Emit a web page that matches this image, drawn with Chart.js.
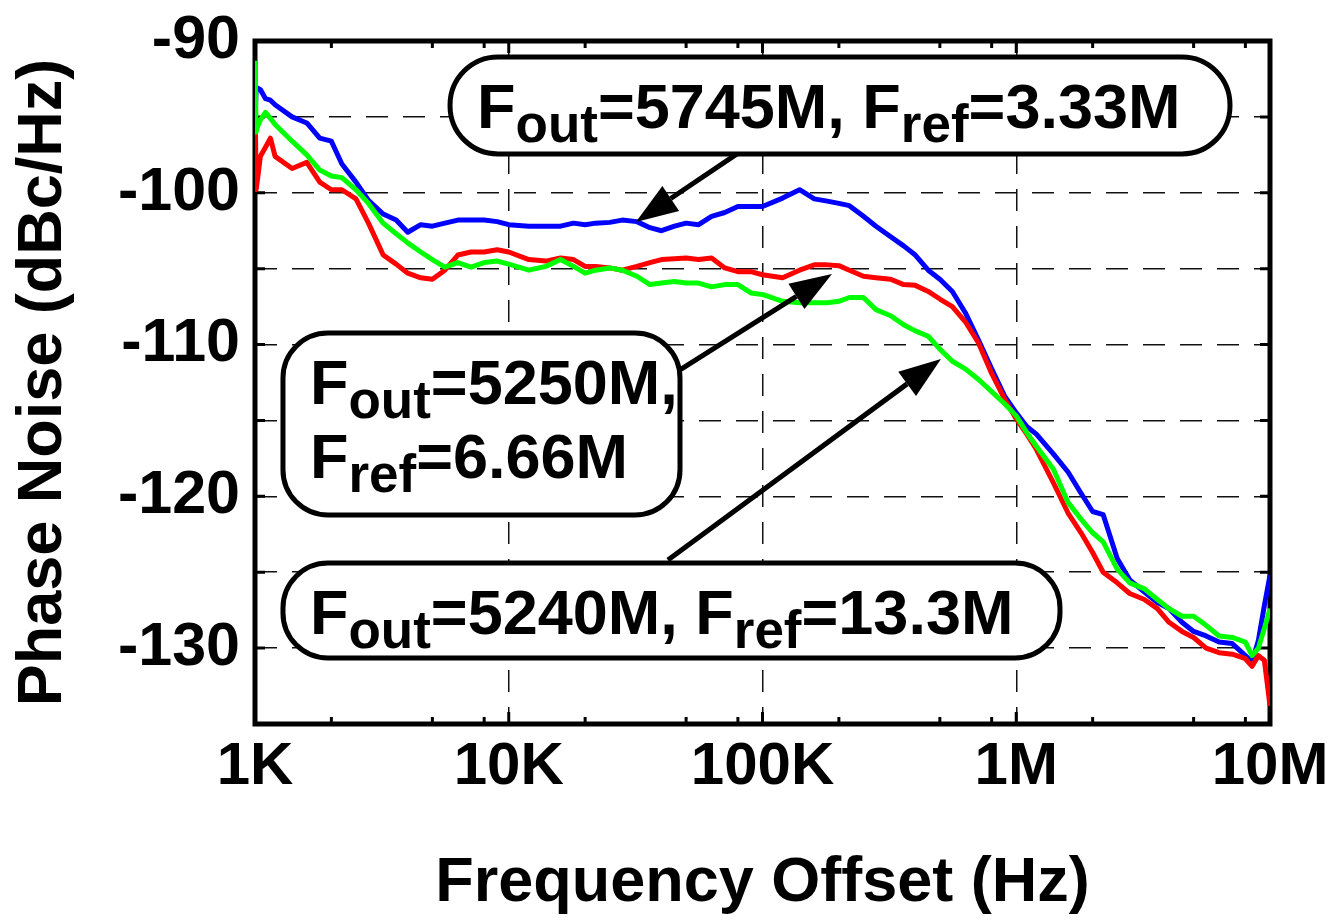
<!DOCTYPE html>
<html>
<head>
<meta charset="utf-8">
<script src="https://cdn.jsdelivr.net/npm/chart.js@4.4.1/dist/chart.umd.min.js"></script>
<style>
    html, body { margin: 0; padding: 0; background: #fff; }
    #wrap { width: 1334px; height: 921px; }
</style>
</head>
<body>
<div id="wrap"><canvas id="chart" width="1334" height="921"></canvas></div>
<script>
// Offset frequency (Hz), shared by the three measured curves
const freqHz = [
    1000, 1010, 1025, 1050, 1100, 1150, 1200, 1400, 1600, 1800, 2000, 2200, 2500, 2800, 3200, 3600, 4000, 4500, 5000, 5600, 6300, 7100, 8000, 9000,
    10000, 12000, 14000, 16000, 18000, 20000, 22000, 25000, 28000, 32000, 36000, 40000, 45000, 50000, 56000, 63000, 71000, 80000, 90000,
    100000, 120000, 140000, 160000, 180000, 200000, 220000, 250000, 280000, 320000, 360000, 400000, 450000, 500000, 560000, 630000, 710000, 800000, 900000,
    1000000, 1100000, 1200000, 1400000, 1600000, 1800000, 2000000, 2200000, 2500000, 2800000, 3200000, 3600000, 4000000, 4500000, 5000000, 5600000, 6300000, 7100000, 8000000, 8500000, 9000000, 9500000, 10000000
];

// Fout=5745M, Fref=3.33M (blue)
const pn5745 = [
    -95.5, -93.2, -93.1, -93.2, -93.8, -93.9, -94.2, -95.0, -95.4, -96.4, -96.6, -98.1, -99.3, -100.5, -101.4, -101.8, -102.6, -102.1, -102.2, -102.0, -101.8, -101.8, -101.8, -101.9,
    -102.1, -102.2, -102.2, -102.2, -102.0, -102.1, -102.0, -101.95, -101.8, -101.9, -102.3, -102.5, -102.2, -102.0, -102.1, -101.55, -101.3, -100.9, -100.9,
    -100.9, -100.35, -99.8, -100.4, -100.55, -100.7, -100.85, -101.55, -102.2, -102.9, -103.5, -104.1, -105.1, -105.7, -106.5, -107.9, -109.7, -111.6, -113.4,
    -114.5, -115.4, -115.9, -117.2, -118.4, -119.8, -121.0, -121.2, -124.1, -125.5, -126.3, -127.0, -127.4, -128.3, -128.9, -129.2, -129.6, -129.7, -130.5, -130.9, -129.5, -127.2, -125.2
];

// Fout=5250M, Fref=6.66M (red)
const pn5250 = [
    -93.0, -99.8, -99.0, -97.6, -97.0, -96.4, -97.6, -98.4, -98.0, -99.3, -99.8, -99.8, -100.4, -102.0, -104.1, -104.7, -105.3, -105.6, -105.7, -105.1, -104.1, -103.9, -103.9, -103.75,
    -103.9, -104.4, -104.5, -104.3, -104.4, -104.85, -104.85, -104.95, -105.1, -104.85, -104.6, -104.4, -104.35, -104.3, -104.4, -104.3, -104.95, -105.2, -105.2,
    -105.4, -105.6, -105.1, -104.75, -104.75, -104.8, -105.1, -105.5, -105.6, -105.7, -106.05, -106.1, -106.5, -107.0, -107.5, -108.5, -109.9, -111.9, -113.6,
    -114.9, -115.9, -116.9, -119.1, -121.1, -122.4, -123.7, -125.0, -125.7, -126.4, -126.8, -127.4, -128.3, -128.9, -129.3, -130.0, -130.3, -130.4, -130.7, -131.2, -130.5, -130.8, -133.8
];

// Fout=5240M, Fref=13.3M (green)
const pn5240 = [
    -91.3, -96.0, -95.6, -95.2, -94.7, -95.1, -95.5, -96.6, -97.5, -98.5, -98.9, -99.0, -99.8, -100.7, -102.0, -102.7, -103.3, -103.9, -104.4, -104.9, -104.6, -104.9, -104.6, -104.5,
    -104.7, -105.1, -104.85, -104.4, -104.85, -105.3, -105.1, -104.95, -105.1, -105.5, -106.05, -105.95, -105.85, -105.95, -105.95, -106.2, -106.05, -106.05, -106.6,
    -106.7, -107.15, -107.25, -107.25, -107.25, -107.15, -106.9, -106.9, -107.7, -108.1, -108.7, -109.1, -109.45, -110.3, -111.1, -111.6, -112.3, -113.1, -113.9,
    -114.7, -115.8, -116.7, -118.2, -120.4, -121.5, -122.4, -123.0, -124.8, -125.7, -126.1, -126.8, -127.4, -127.9, -127.9, -128.5, -129.2, -129.3, -129.6, -130.5, -130.0, -128.7, -127.4
];

const xTickValues = [1e3, 1e4, 1e5, 1e6, 1e7];
const xTickLabels = ['1K', '10K', '100K', '1M', '10M'];
const yLabelValues = [-90, -100, -110, -120, -130];
const Y_MIN = -135;
const Y_MAX = -90;

// Callout boxes (corners in data units) and their arrows (tail -> tip)
const noteTexts = [
    'F_{out}=5745M, F_{ref}=3.33M',
    'F_{out}=5250M,\nF_{ref}=6.66M',
    'F_{out}=5240M, F_{ref}=13.3M'
];
const noteBoxes = [
    [5870, 6.955e6, -91.05, -97.44],
    [1289, 47300, -109.24, -121.23],
    [1289, 1.487e6, -124.39, -130.65]
];
const noteArrows = [
    [81500, -97.31, 31700, -101.92],
    [44000, -112.0, 187800, -105.35],
    [42400, -124.19, 505000, -110.95]
];

const FONT = "'Liberation Sans', Arial, Helvetica, sans-serif";
Chart.defaults.font.family = FONT;
Chart.defaults.color = '#000';

function toPoints(values) {
    return values.map((v, i) => ({ x: freqHz[i], y: v }));
}

// Draws text with _{...} subscripts starting at (x, y) baseline
function drawSubText(ctx, text, x, y) {
    const parts = text.split(/(_\{[^}]*\})/).filter(p => p.length);
    let cx = x;
    parts.forEach(function (p) {
        if (p.startsWith('_{')) {
            ctx.font = `bold 53px ${FONT}`;
            const t = p.slice(2, -1);
            ctx.fillText(t, cx, y + 14);
            cx += ctx.measureText(t).width;
        } else {
            ctx.font = `bold 63px ${FONT}`;
            ctx.fillText(p, cx, y);
            cx += ctx.measureText(p).width;
        }
    });
}

function drawArrow(ctx, x0, y0, x1, y1) {
    const ang = Math.atan2(y1 - y0, x1 - x0);
    const headLen = 42;
    const headHalf = 15;
    const bx = x1 - headLen * Math.cos(ang);
    const by = y1 - headLen * Math.sin(ang);
    ctx.beginPath();
    ctx.moveTo(x0, y0);
    ctx.lineTo(bx, by);
    ctx.stroke();
    ctx.beginPath();
    ctx.moveTo(x1, y1);
    ctx.lineTo(bx + headHalf * Math.sin(ang), by - headHalf * Math.cos(ang));
    ctx.lineTo(bx - headHalf * Math.sin(ang), by + headHalf * Math.cos(ang));
    ctx.closePath();
    ctx.fill();
}

// no extra label overflow padding, the chart area is fixed by layout padding
function noScalePadding(s) {
    s.paddingLeft = 0;
    s.paddingRight = 0;
    s.paddingTop = 0;
    s.paddingBottom = 0;
}

// Frame and inward ticks go under the curves, callouts on top
const frameAndNotes = {
    id: 'frameAndNotes',
    beforeDatasetsDraw(chart) {
        const { ctx, chartArea: a, scales: { x, y } } = chart;
        ctx.save();
        ctx.strokeStyle = '#000';

        ctx.lineWidth = 3;
        ctx.beginPath();
        for (let v = Y_MIN; v <= Y_MAX; v += 5) {
            const py = y.getPixelForValue(v);
            ctx.moveTo(a.left, py); ctx.lineTo(a.left + 10, py);
            ctx.moveTo(a.right, py); ctx.lineTo(a.right - 10, py);
        }
        for (let d = 1e3; d <= 1e7; d *= 10) {
            [1, 2, 5, 8].forEach(function (m) {
                const v = d * m;
                if (v > 1e7) return;
                const px = x.getPixelForValue(v);
                const len = m === 1 ? 12 : 7;
                ctx.moveTo(px, a.bottom); ctx.lineTo(px, a.bottom - len);
                ctx.moveTo(px, a.top); ctx.lineTo(px, a.top + len);
            });
        }
        ctx.stroke();

        ctx.lineWidth = 5;
        ctx.strokeRect(a.left, a.top, a.right - a.left, a.bottom - a.top);
        ctx.restore();
    },
    afterDatasetsDraw(chart) {
        const { ctx, scales: { x, y } } = chart;
        ctx.save();
        ctx.strokeStyle = '#000';
        ctx.fillStyle = '#000';

        // arrows
        ctx.lineWidth = 5;
        noteArrows.forEach(function (ar) {
            drawArrow(ctx, x.getPixelForValue(ar[0]), y.getPixelForValue(ar[1]),
                x.getPixelForValue(ar[2]), y.getPixelForValue(ar[3]));
        });

        // callout boxes
        noteBoxes.forEach(function (b, i) {
            const left = x.getPixelForValue(b[0]);
            const right = x.getPixelForValue(b[1]);
            const top = y.getPixelForValue(b[2]);
            const bottom = y.getPixelForValue(b[3]);
            const r = i === 0 ? 48 : 45;
            ctx.beginPath();
            ctx.roundRect(left, top, right - left, bottom - top, r);
            ctx.fillStyle = '#fff';
            ctx.fill();
            ctx.lineWidth = 5;
            ctx.stroke();
            ctx.fillStyle = '#000';
            ctx.textAlign = 'left';
            ctx.textBaseline = 'alphabetic';
            noteTexts[i].split('\n').forEach(function (line, k) {
                drawSubText(ctx, line, left + 27, top + 71 + k * 74);
            });
        });
        ctx.restore();
    }
};

new Chart(document.getElementById('chart'), {
    type: 'line',
    data: {
        datasets: [
            { label: 'Fout=5240M, Fref=13.3M', data: toPoints(pn5240), borderColor: '#00ff00' },
            { label: 'Fout=5250M, Fref=6.66M', data: toPoints(pn5250), borderColor: '#ff0000' },
            { label: 'Fout=5745M, Fref=3.33M', data: toPoints(pn5745), borderColor: '#0000ff' }
        ]
    },
    options: {
        responsive: false,
        animation: false,
        devicePixelRatio: 1,
        parsing: false,
        elements: {
            line: { borderWidth: 5, tension: 0, borderJoinStyle: 'round' },
            point: { radius: 0 }
        },
        layout: { padding: { top: 41, right: 64, left: 0, bottom: 0 } },
        plugins: {
            legend: { display: false },
            tooltip: { enabled: false }
        },
        scales: {
            x: {
                type: 'logarithmic',
                min: 1e3,
                max: 1e7,
                afterBuildTicks: function (s) {
                    s.ticks = xTickValues.map(v => ({ value: v }));
                },
                afterFit: function (s) {
                    s.height = 197;
                    noScalePadding(s);
                },
                ticks: {
                    autoSkip: false,
                    maxRotation: 0,
                    padding: 7,
                    font: { size: 60, weight: 'bold' },
                    callback: function (v) {
                        const i = xTickValues.indexOf(v);
                        return i >= 0 ? xTickLabels[i] : '';
                    }
                },
                grid: { color: '#111', lineWidth: 1.5, drawTicks: false },
                border: { display: false, dash: [22, 15] },
                title: {
                    display: true,
                    text: 'Frequency Offset (Hz)',
                    font: { size: 63, weight: 'bold', lineHeight: 1.2 },
                    padding: { top: 0, bottom: 0 }
                }
            },
            y: {
                type: 'linear',
                min: Y_MIN,
                max: Y_MAX,
                afterFit: function (s) {
                    s.width = 255;
                    noScalePadding(s);
                },
                ticks: {
                    stepSize: 5,
                    autoSkip: false,
                    padding: 15,
                    font: { size: 61, weight: 'bold', lineHeight: 1 },
                    callback: function (v) {
                        return yLabelValues.includes(v) ? String(v) : '';
                    }
                },
                grid: { color: '#111', lineWidth: 1.5, drawTicks: false },
                border: { display: false, dash: [22, 15] },
                title: {
                    display: true,
                    text: 'Phase Noise (dBc/Hz)',
                    font: { size: 63, weight: 'bold', lineHeight: 1.2 },
                    padding: { top: 6, bottom: 0 }
                }
            }
        }
    },
    plugins: [frameAndNotes]
});
</script>
</body>
</html>
